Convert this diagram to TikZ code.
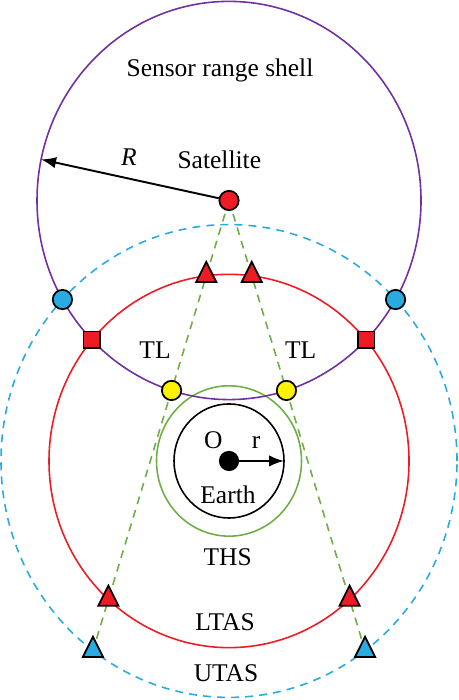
\documentclass[tikz,border=0pt]{standalone}
\usepackage{fontspec}
\setmainfont{Liberation Serif}
\usetikzlibrary{calc,shapes.geometric,arrows.meta,backgrounds}

\definecolor{shellpurple}{RGB}{112,48,160}
\definecolor{tasred}{RGB}{237,28,36}
\definecolor{tasblue}{RGB}{41,171,226}
\definecolor{tlyellow}{RGB}{255,242,0}
\definecolor{thsgreen}{RGB}{112,173,71}

\begin{document}
\begin{tikzpicture}[
    scale=0.2, yscale=1.037,
    ring/.style={line width=0.9pt},
    tanline/.style={thsgreen, line width=0.9pt, dash pattern=on 4.5pt off 3.5pt},
    dotmark/.style={circle, draw, line width=1pt, minimum size=11pt, inner sep=0pt},
    trimark/.style={isosceles triangle, isosceles triangle stretches, shape border rotate=90,
                    draw, line width=1pt, minimum width=11.5pt, minimum height=11.5pt, inner sep=0pt},
    sqmark/.style={rectangle, draw, line width=1pt, minimum size=9.5pt, inner sep=0pt},
    arr/.style={-{Latex[length=8.5pt,width=6.5pt]}, line width=1.1pt},
    lbl/.style={font=\fontsize{14.5}{17}\selectfont},
  ]
  \useasboundingbox (-22.9,-23.05) rectangle (22.9,44.455);

  \coordinate (O) at (0,0);
  \coordinate (S) at (0,25.12);

  % Shells
  \begin{pgfonlayer}{background}
    \draw[ring, tasblue, dash pattern=on 4.5pt off 3.5pt] (O) circle (22.8);
    \draw[ring, tasred] (O) circle (18);
    \draw[ring, thsgreen] (O) circle (7.25);
    \draw[ring] (O) circle (5.5);
    \draw[ring, shellpurple] (S) circle (19.2);
  \end{pgfonlayer}

  % Satellite and Earth
  \node[dotmark, fill=tasred] (sat) at (S) {};
  \node[circle, fill=black, minimum size=11.5pt, inner sep=0pt] (o) at (O) {};

  % Shell crossings
  \node[dotmark, fill=tasblue] (u1) at (-16.656,15.570) {};
  \node[dotmark, fill=tasblue] (u2) at (16.656,15.570) {};
  \node[sqmark, fill=tasred] (l1) at (-13.704,11.671) {};
  \node[sqmark, fill=tasred] (l2) at (13.704,11.671) {};

  % Tangent lines
  \node[dotmark, fill=tlyellow] (tl1) at ($(S)+(252.6:19.2)$) {};
  \node[dotmark, fill=tlyellow] (tl2) at ($(S)+(287.4:19.2)$) {};
  \node[trimark, fill=tasred] (a1) at ($(S)+(252.6:7.61)$) {};
  \node[trimark, fill=tasred] (a2) at ($(S)+(287.4:7.61)$) {};
  \node[trimark, fill=tasred] (b1) at ($(S)+(252.6:40.33)$) {};
  \node[trimark, fill=tasred] (b2) at ($(S)+(287.4:40.33)$) {};
  \node[trimark, fill=tasblue] (c1) at ($(S)+(252.6:45.5)$) {};
  \node[trimark, fill=tasblue] (c2) at ($(S)+(287.4:45.5)$) {};

  \begin{pgfonlayer}{background}
    \draw[tanline, shorten <=2pt] (sat) -- (c1);
    \draw[tanline, shorten <=2pt] (sat) -- (c2);
  \end{pgfonlayer}

  % Radii
  \coordinate (redge) at ($(S)+(168.1:19.2)$);
  \coordinate (rim) at (5.5,0);
  \draw[arr] (sat) -- (redge);
  \draw[arr] (o) -- (rim);

  % Labels
  \node[lbl] (shell) at (-0.9,37.70) {Sensor range shell};
  \node[lbl] (satlbl) at (-0.97,29.03) {Satellite};
  \node[lbl] (rlbl) at (-10.0,29.32) {\textit{R}};
  \node[lbl] (tla) at (-7.4,10.70) {TL};
  \node[lbl] (tlb) at (7.17,10.70) {TL};
  \node[lbl] (olbl) at (-1.57,2.03) {O};
  \node[lbl] (rrlbl) at (2.7,1.74) {r};
  \node[lbl] (earth) at (-0.1,-3.28) {Earth};
  \node[lbl] (ths) at (-0.13,-9.29) {THS};
  \node[lbl] (ltas) at (-0.4,-15.50) {LTAS};
  \node[lbl] (utas) at (-0.3,-20.47) {UTAS};

\end{tikzpicture}
\end{document}
